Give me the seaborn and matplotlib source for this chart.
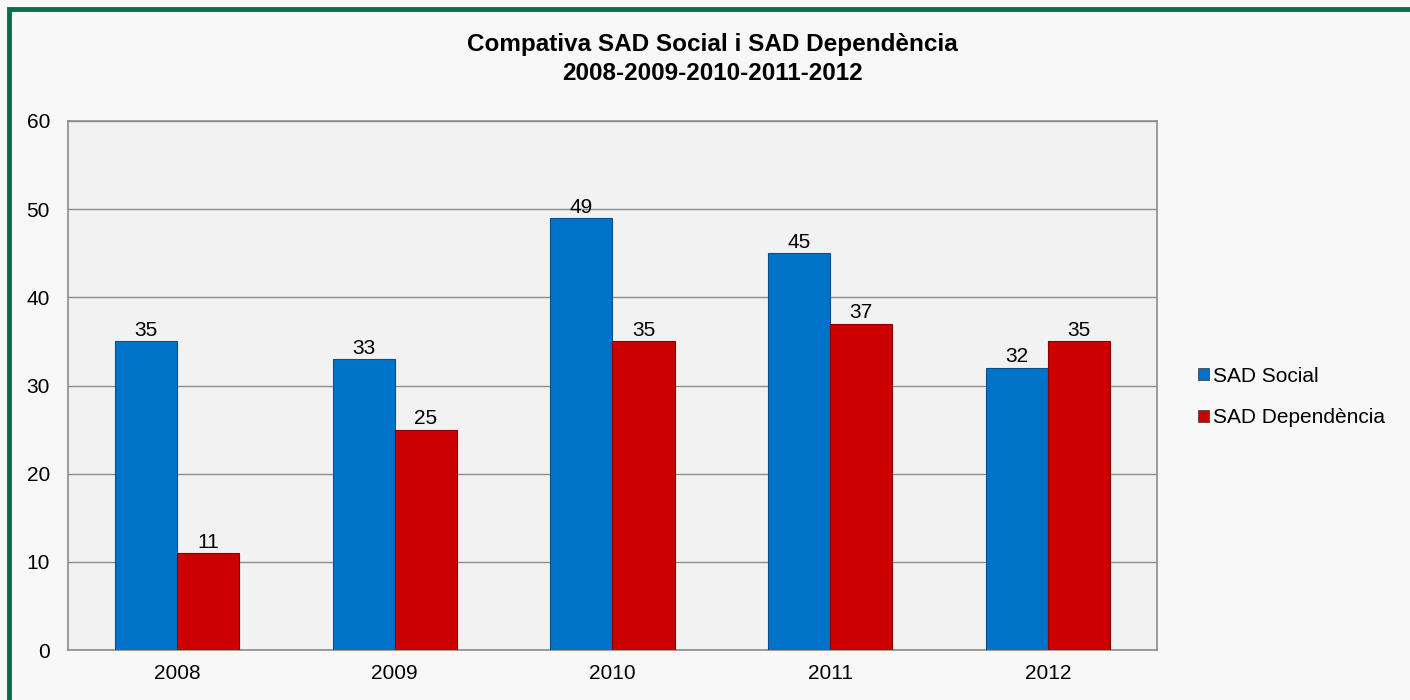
import pandas as pd
import matplotlib
matplotlib.use("Agg")
import matplotlib.pyplot as plt
import seaborn as sns
from matplotlib.patches import Rectangle

years = ["2008", "2009", "2010", "2011", "2012"]
sad_social = [35, 33, 49, 45, 32]
sad_dependencia = [11, 25, 35, 37, 35]
series_names = ["SAD Social", "SAD Dependència"]

df = pd.DataFrame({
    "year": years * 2,
    "value": sad_social + sad_dependencia,
    "serie": [series_names[0]] * len(years) + [series_names[1]] * len(years),
})

sns.set_style("white")
plt.rcParams['font.family'] = ['Liberation Sans', 'DejaVu Sans']
plt.rcParams['text.color'] = 'black'
plt.rcParams['xtick.color'] = 'black'
plt.rcParams['ytick.color'] = 'black'

fig = plt.figure(figsize=(14.1, 7), dpi=100, facecolor='#F8F8F8')
ax = fig.add_axes([68/1410, 50/700, (1157-68)/1410, (650-121)/700])
ax.set_facecolor('#F2F2F2')

colors = {"SAD Social": "#0073C9", "SAD Dependència": "#CC0000"}
sns.barplot(data=df, x="year", y="value", hue="serie", palette=colors,
            width=0.57, saturation=1, ax=ax, edgecolor='none', zorder=3, legend=False)

# darker edges to hint at the bevel
for bar in ax.patches:
    bar.set_edgecolor('#0b4f86' if bar.get_facecolor()[0] < 0.5 else '#8a0000')
    bar.set_linewidth(0.8)

for cont in ax.containers:
    ax.bar_label(cont, fmt='%d', padding=1, fontsize=15)

ax.set_ylim(0, 60)
ax.set_yticks(range(0, 61, 10))
ax.yaxis.grid(True, color='#8C8C8C', linewidth=1)
ax.set_axisbelow(True)
for s in ax.spines.values():
    s.set_color('#8C8C8C')
    s.set_linewidth(1.2)
ax.tick_params(axis='both', labelsize=15, length=0)
ax.tick_params(axis='y', pad=13)
ax.tick_params(axis='x', pad=10)
ax.set_xlabel("")
ax.set_ylabel("")

fig.text(0.505, 1 - 45/700, "Compativa SAD Social i SAD Dependència",
         ha='center', va='center', fontsize=17.5, fontweight='bold')
fig.text(0.505, 1 - 73/700, "2008-2009-2010-2011-2012",
         ha='center', va='center', fontsize=17.5, fontweight='bold')

handles = [plt.Rectangle((0, 0), 1, 1, facecolor=colors[n], edgecolor='#333333', linewidth=0.5)
           for n in series_names]
fig.legend(handles, series_names, loc='center left', bbox_to_anchor=(1188/1410, 1 - 397/700),
           frameon=False, fontsize=15, handlelength=0.5, handleheight=0.5,
           handletextpad=0.2, labelspacing=1.1, borderpad=0)

fig.patches.append(Rectangle((9/1410, -0.05), 1.1, 1 - 9/700 + 0.05,
                             transform=fig.transFigure, fill=False,
                             edgecolor='#00704F', linewidth=3.5))

fig.savefig("out.png", dpi=100, facecolor=fig.get_facecolor())
